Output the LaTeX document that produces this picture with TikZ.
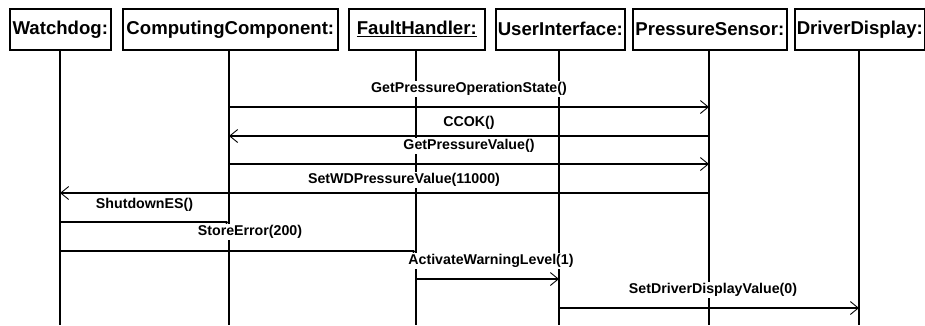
\documentclass[tikz,border=0pt]{standalone}
\usepackage{fontspec}
\setmainfont{Liberation Sans}
\usetikzlibrary{arrows.meta}
\begin{document}
\begin{tikzpicture}[x=1pt,y=-1pt,
  objbox/.style={draw=black,line width=1.6pt,fill=white,inner sep=0pt,font=\fontsize{18.6}{20}\selectfont\bfseries,anchor=north west},
  lifeline/.style={line width=1.5pt},
  msglabel/.style={fill=white,inner sep=1.5pt,font=\fontsize{14.2}{16}\selectfont\bfseries},
  callmsg/.style={line width=1.5pt,-{Straight Barb[length=8pt,width=13pt,line width=0.9pt]}},
  asyncmsg/.style={line width=1.5pt,-{Straight Barb[right,length=6pt,width=12pt,line width=0.9pt]}}
]
\useasboundingbox (0,0) rectangle (925,325);
% object boxes
\node[objbox,minimum width=101pt,minimum height=41pt] (wd) at (9,8) {Watchdog:};
\node[objbox,minimum width=215pt,minimum height=41pt] (cc) at (122,8) {ComputingComponent:};
\node[objbox,minimum width=136pt,minimum height=41pt] (fh) at (348,8) {\underline{FaultHandler:}};
\node[objbox,minimum width=129pt,minimum height=41pt] (ui) at (495,8) {UserInterface:};
\node[objbox,minimum width=154pt,minimum height=41pt] (ps) at (632,8) {PressureSensor:};
\node[objbox,minimum width=130pt,minimum height=41pt] (dd) at (794,8) {DriverDisplay:};
% lifeline ends
\coordinate (wdE) at (60,325);
\coordinate (ccE) at (229,325);
\coordinate (fhE) at (416,325);
\coordinate (uiE) at (559,325);
\coordinate (psE) at (709,325);
\coordinate (ddE) at (859,325);
\draw[lifeline] (60,49) -- (wdE);
\draw[lifeline] (229,49) -- (ccE);
\draw[lifeline] (416,49) -- (fhE);
\draw[lifeline] (559,49) -- (uiE);
\draw[lifeline] (709,49) -- (psE);
\draw[lifeline] (859,49) -- (ddE);
% message anchor points
\foreach \n/\x in {wd/60,cc/229,fh/416,ui/559,ps/709,dd/859}{
  \foreach \k/\y in {1/107,2/136,3/164,4/193,5/222,6/251,7/279,8/308}{
    \coordinate (\n\k) at (\x,\y);
  }
}
% messages
\node[msglabel] (l1) at (469,89) {GetPressureOperationState()};
\draw[callmsg] (cc1) -- (ps1);
\node[msglabel] (l2) at (469,123) {CCOK()};
\draw[callmsg] (ps2) -- (cc2);
\node[msglabel] (l3) at (469,146) {GetPressureValue()};
\draw[callmsg] (cc3) -- (ps3);
\node[msglabel] (l4) at (404,180) {SetWDPressureValue(11000)};
\draw[callmsg] (ps4) -- (wd4);
\node[msglabel] (l5) at (144.5,205) {ShutdownES()};
\draw[asyncmsg] (wd5) -- (cc5);
\node[msglabel] (l6) at (250,232) {StoreError(200)};
\draw[asyncmsg] (wd6) -- (fh6);
\node[msglabel] (l7) at (491,261) {ActivateWarningLevel(1)};
\draw[callmsg] (fh7) -- (ui7);
\node[msglabel] (l8) at (713,290) {SetDriverDisplayValue(0)};
\draw[callmsg] (ui8) -- (dd8);
\end{tikzpicture}
\end{document}
